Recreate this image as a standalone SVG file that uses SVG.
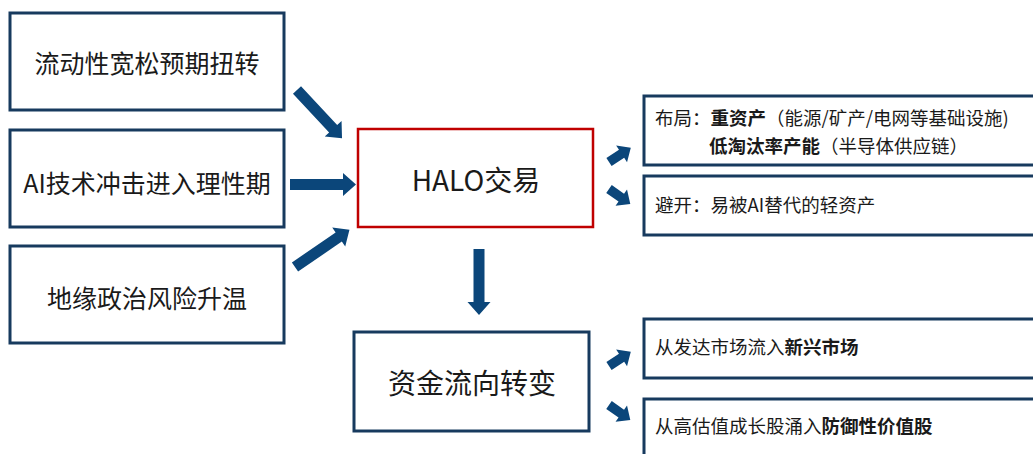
<svg xmlns="http://www.w3.org/2000/svg" xmlns:xlink="http://www.w3.org/1999/xlink" width="1033" height="454" viewBox="0 0 1033 454">
<style>
.box{fill:#fff;stroke:#173a5e;stroke-width:3}
.red{fill:#fff;stroke:#c00000;stroke-width:2.5}
.t{font-family:"Noto Sans CJK SC","Noto Sans",sans-serif;fill:#1a1a1a}
.big{font-size:25px;text-anchor:middle;dominant-baseline:central}
.mid{font-size:28px;text-anchor:middle;dominant-baseline:central}
.sm{font-size:18.5px;dominant-baseline:central}
.b{font-weight:bold}
.arr{fill:#0b467a}
</style>
<defs>
<path id="ab" d="M0,-5.5 H53 V-11.5 L66,0 L53,11.5 V5.5 H0 Z"/>
<path id="as" d="M0,-4.8 H15 V-10 L26,0 L15,10 V4.8 H0 Z"/>
</defs>
<rect width="1033" height="454" fill="#fff"/>
<g id="n1"><rect class="box" x="10" y="13" width="274" height="97"/><text class="t big" x="147" y="62">流动性宽松预期扭转</text></g>
<g id="n2"><rect class="box" x="10" y="130" width="274" height="97"/><text class="t big" x="147" y="182">AI技术冲击进入理性期</text></g>
<g id="n3"><rect class="box" x="10" y="246" width="274" height="97"/><text class="t big" x="147" y="297">地缘政治风险升温</text></g>
<g id="halo"><rect class="red" x="358" y="129" width="235" height="98"/><text class="t mid" x="476" y="179">HALO交易</text></g>
<g id="flow"><rect class="box" x="354" y="332" width="235" height="99"/><text class="t mid" x="472" y="382">资金流向转变</text></g>
<g id="r1"><rect class="box" x="644" y="96" width="420" height="69"/>
<text class="t sm" x="655" y="117">布局：<tspan class="b">重资产</tspan>（能源/矿产/电网等基础设施)</text>
<text class="t sm" x="709" y="145"><tspan class="b">低淘汰率产能</tspan>（半导体供应链）</text></g>
<g id="r2"><rect class="box" x="644" y="176" width="420" height="59"/><text class="t sm" x="655" y="204">避开：易被AI替代的轻资产</text></g>
<g id="r3"><rect class="box" x="644" y="319" width="420" height="59"/><text class="t sm" x="655" y="346">从发达市场流入<tspan class="b">新兴市场</tspan></text></g>
<g id="r4"><rect class="box" x="644" y="399" width="420" height="80"/><text class="t sm" x="655" y="425">从高估值成长股涌入<tspan class="b">防御性价值股</tspan></text></g>
<g id="connectors" class="arr">
<use xlink:href="#ab" transform="translate(297,90) rotate(47)"/>
<use xlink:href="#ab" transform="translate(290,184.5)"/>
<use xlink:href="#ab" transform="translate(295,267) rotate(-34.4)"/>
<use xlink:href="#ab" transform="translate(479,249) rotate(90)"/>
<use xlink:href="#as" transform="translate(609,162) rotate(-33)"/>
<use xlink:href="#as" transform="translate(609,189) rotate(35)"/>
<use xlink:href="#as" transform="translate(609,366) rotate(-33)"/>
<use xlink:href="#as" transform="translate(609,405) rotate(35)"/>
</g>
</svg>
